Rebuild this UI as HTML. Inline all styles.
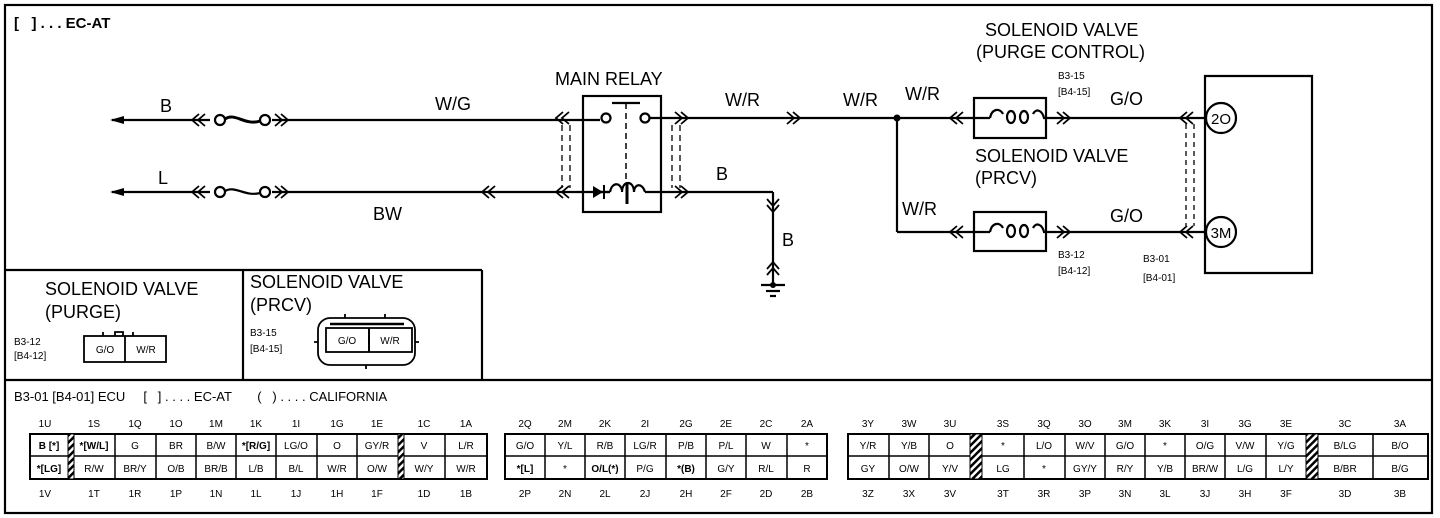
<!DOCTYPE html>
<html><head><meta charset="utf-8"><style>
html,body{margin:0;padding:0;background:#fff;}
svg{display:block;font-family:"Liberation Sans",sans-serif;}
</style></head><body>
<svg width="1440" height="518" viewBox="0 0 1440 518" xmlns="http://www.w3.org/2000/svg">
<defs>
<g id="cl"><path d="M7,-6 L0,0 L7,6 M13,-6 L6,0 L13,6" fill="none" stroke="#000" stroke-width="1.8"/></g>
<g id="cr"><path d="M-7,-6 L0,0 L-7,6 M-13,-6 L-6,0 L-13,6" fill="none" stroke="#000" stroke-width="1.8"/></g>
<g id="cd"><path d="M-6,-7 L0,0 L6,-7 M-6,-13 L0,-6 L6,-13" fill="none" stroke="#000" stroke-width="1.8"/></g>
<g id="cu"><path d="M-6,7 L0,0 L6,7 M-6,13 L0,6 L6,13" fill="none" stroke="#000" stroke-width="1.8"/></g>
<pattern id="hatch" width="5" height="5" patternUnits="userSpaceOnUse" patternTransform="rotate(45)"><rect width="5" height="5" fill="#fff"/><rect width="2.5" height="5" fill="#000"/></pattern>
</defs>
<g fill="none" stroke="#000" stroke-width="2.2">
<rect x="5" y="5" width="1427" height="508"/>
<line x1="5" y1="380" x2="1432" y2="380"/>
<line x1="5" y1="270" x2="482" y2="270"/>
<line x1="482" y1="270" x2="482" y2="380"/>
<line x1="243" y1="270" x2="243" y2="380"/>
</g>
<g font-size="15" font-weight="bold"><text x="14" y="28">[&#160;&#160;&#160;] . . . EC-AT</text></g>

<g stroke="#000" stroke-width="2.2" fill="none">
<line x1="112" y1="120" x2="210" y2="120"/>
<line x1="272" y1="120" x2="600" y2="120"/>
<line x1="112" y1="192" x2="210" y2="192"/>
<line x1="272" y1="192" x2="610" y2="192"/>
<circle cx="220" cy="120" r="5" fill="#fff"/><circle cx="265" cy="120" r="5" fill="#fff"/>
<path d="M225,119 C235,112 245,126 260,121" stroke-width="3"/>
<circle cx="220" cy="192" r="5" fill="#fff"/><circle cx="265" cy="192" r="5" fill="#fff"/>
<path d="M225,191 C235,185 245,197 260,193"/>
</g>
<path d="M110,120 L124,116 L124,124 Z M110,192 L124,188 L124,196 Z" fill="#000"/>
<use href="#cl" x="192" y="120"/><use href="#cr" x="288" y="120"/>
<use href="#cl" x="192" y="192"/><use href="#cr" x="288" y="192"/>
<use href="#cl" x="482" y="192"/>
<g font-size="18"><text x="160" y="112">B</text><text x="158" y="184">L</text>
<text x="435" y="110">W/G</text><text x="373" y="220">BW</text></g>

<g stroke="#000" stroke-width="2.2" fill="none">
<rect x="583" y="96" width="78" height="116"/>
<line x1="612" y1="103" x2="640" y2="103"/>
<line x1="626" y1="103" x2="626" y2="180" stroke-dasharray="6,4" stroke-width="1.5"/>
<circle cx="606" cy="118" r="4.5" fill="#fff"/><circle cx="645" cy="118" r="4.5" fill="#fff"/>
<line x1="650" y1="118" x2="897" y2="118"/>
<line x1="600" y1="192" x2="610" y2="192"/>
<path d="M610,192 C612,182 620,182 622,190 M622,192 C622,180 634,180 634,192 C634,184 642,182 645,192"/>
<line x1="645" y1="192" x2="773" y2="192"/>
<line x1="627" y1="184" x2="627" y2="204" stroke-width="3"/>
<line x1="562" y1="125" x2="562" y2="188" stroke-dasharray="6,4" stroke-width="1.3"/>
<line x1="570" y1="125" x2="570" y2="188" stroke-dasharray="6,4" stroke-width="1.3"/>
<line x1="672" y1="125" x2="672" y2="188" stroke-dasharray="6,4" stroke-width="1.3"/>
<line x1="680" y1="125" x2="680" y2="188" stroke-dasharray="6,4" stroke-width="1.3"/>
</g>
<path d="M593,186 L593,198 L603,192 Z" fill="#000"/><line x1="604" y1="185" x2="604" y2="199" stroke="#000" stroke-width="2"/>
<use href="#cl" x="556" y="118"/><use href="#cl" x="556" y="192"/>
<use href="#cr" x="688" y="118"/><use href="#cr" x="688" y="192"/>
<use href="#cr" x="800" y="118"/>
<g font-size="18"><text x="555" y="85">MAIN RELAY</text>
<text x="725" y="106">W/R</text><text x="843" y="106">W/R</text><text x="905" y="100">W/R</text>
<text x="716" y="180">B</text><text x="782" y="246">B</text><text x="902" y="215">W/R</text>
<text x="1110" y="105">G/O</text><text x="1110" y="222">G/O</text>
<text x="985" y="36">SOLENOID VALVE</text><text x="976" y="58">(PURGE CONTROL)</text>
<text x="975" y="162">SOLENOID VALVE</text><text x="975" y="184">(PRCV)</text></g>

<g stroke="#000" stroke-width="2.2" fill="none">
<line x1="773" y1="192" x2="773" y2="285"/>
<line x1="761" y1="285" x2="785" y2="285"/>
<line x1="766" y1="291" x2="780" y2="291"/>
<line x1="770" y1="296" x2="776" y2="296"/>
</g>
<circle cx="773" cy="285" r="3" fill="#000"/>
<use href="#cd" x="773" y="212"/><use href="#cu" x="773" y="262"/>

<circle cx="897" cy="118" r="3.5" fill="#000"/>
<g stroke="#000" stroke-width="2.2" fill="none">
<line x1="897" y1="118" x2="990" y2="118"/>
<line x1="897" y1="118" x2="897" y2="232"/>
<line x1="897" y1="232" x2="990" y2="232"/>
<rect x="974" y="98" width="72" height="40"/>
<rect x="974" y="212" width="72" height="39"/>
<path d="M990,118 C992,108 1000,108 1003,114 M1033,114 C1036,108 1042,110 1044,118 L1206,118"/>
<ellipse cx="1011" cy="117" rx="4" ry="6"/><ellipse cx="1024" cy="117" rx="4" ry="6"/>
<path d="M990,232 C992,222 1000,222 1003,228 M1033,228 C1036,222 1042,224 1044,232 L1206,232"/>
<ellipse cx="1011" cy="231" rx="4" ry="6"/><ellipse cx="1024" cy="231" rx="4" ry="6"/>
<path d="M1205,76 L1312,76 L1312,273 L1205,273 Z"/>
<line x1="1186" y1="124" x2="1186" y2="226" stroke-dasharray="5,4" stroke-width="1.3"/>
<line x1="1194" y1="124" x2="1194" y2="226" stroke-dasharray="5,4" stroke-width="1.3"/>
<circle cx="1221" cy="118" r="15" fill="#fff"/>
<circle cx="1221" cy="232" r="15" fill="#fff"/>
</g>
<use href="#cl" x="950" y="118"/><use href="#cl" x="950" y="232"/>
<use href="#cr" x="1070" y="118"/><use href="#cr" x="1070" y="232"/>
<use href="#cl" x="1180" y="118"/><use href="#cl" x="1180" y="232"/>
<g font-size="15" text-anchor="middle"><text x="1221" y="124">2O</text><text x="1221" y="238">3M</text></g>
<g font-size="10"><text x="1058" y="79">B3-15</text><text x="1058" y="95">[B4-15]</text>
<text x="1058" y="258">B3-12</text><text x="1058" y="274">[B4-12]</text>
<text x="1143" y="262">B3-01</text><text x="1143" y="281">[B4-01]</text></g>

<g font-size="18"><text x="45" y="295">SOLENOID VALVE</text><text x="45" y="318">(PURGE)</text>
<text x="250" y="288">SOLENOID VALVE</text><text x="250" y="311">(PRCV)</text></g>
<g font-size="10"><text x="14" y="345">B3-12</text><text x="14" y="359">[B4-12]</text>
<text x="250" y="336">B3-15</text><text x="250" y="352">[B4-15]</text></g>
<g stroke="#000" stroke-width="1.8" fill="none">
<rect x="84" y="336" width="82" height="26"/><line x1="125" y1="336" x2="125" y2="362"/>
<path d="M103,336 v-4 M115,336 v-4 h8 v4 M133,336 v-4"/>
<rect x="318" y="318" width="97" height="47" rx="12"/>
<rect x="326" y="328" width="86" height="24"/><line x1="369" y1="328" x2="369" y2="352" stroke-width="2"/>
<line x1="330" y1="324" x2="404" y2="324" stroke-width="2.5"/>
<path d="M345,318 v-4 M385,318 v-4 M366,365 v4 M318,342 h-4 M415,342 h4"/>
</g>
<g font-size="10" text-anchor="middle"><text x="105" y="353">G/O</text><text x="146" y="353">W/R</text>
<text x="347" y="344">G/O</text><text x="390" y="344">W/R</text></g>

<g font-size="13"><text x="14" y="401">B3-01 [B4-01] ECU&#160;&#160;&#160;&#160;&#160;[&#160;&#160;&#160;] . . . . EC-AT&#160;&#160;&#160;&#160;&#160;&#160;&#160;(&#160;&#160;&#160;) . . . . CALIFORNIA</text></g>
<g font-size="10" text-anchor="middle">
<rect x="30" y="434" width="457" height="45" fill="none" stroke="#000" stroke-width="2"/>
<line x1="30" y1="456" x2="487" y2="456" stroke="#000" stroke-width="1.5"/>
<rect x="68" y="434" width="6" height="45" fill="url(#hatch)" stroke="#000"/>
<rect x="398" y="434" width="6" height="45" fill="url(#hatch)" stroke="#000"/>
<g stroke="#000" stroke-width="1.5">
<line x1="115" y1="434" x2="115" y2="479"/><line x1="156" y1="434" x2="156" y2="479"/><line x1="196" y1="434" x2="196" y2="479"/>
<line x1="236" y1="434" x2="236" y2="479"/><line x1="276" y1="434" x2="276" y2="479"/><line x1="317" y1="434" x2="317" y2="479"/>
<line x1="357" y1="434" x2="357" y2="479"/><line x1="445" y1="434" x2="445" y2="479"/>
</g>
<text x="45" y="427">1U</text><text x="94" y="427">1S</text><text x="135" y="427">1Q</text><text x="176" y="427">1O</text><text x="216" y="427">1M</text><text x="256" y="427">1K</text><text x="296" y="427">1I</text><text x="337" y="427">1G</text><text x="377" y="427">1E</text><text x="424" y="427">1C</text><text x="466" y="427">1A</text>
<text x="49" y="449" font-weight="bold">B [*]</text><text x="94" y="449" font-weight="bold">*[W/L]</text><text x="135" y="449">G</text><text x="176" y="449">BR</text><text x="216" y="449">B/W</text><text x="256" y="449" font-weight="bold">*[R/G]</text><text x="296" y="449">LG/O</text><text x="337" y="449">O</text><text x="377" y="449">GY/R</text><text x="424" y="449">V</text><text x="466" y="449">L/R</text>
<text x="49" y="472" font-weight="bold">*[LG]</text><text x="94" y="472">R/W</text><text x="135" y="472">BR/Y</text><text x="176" y="472">O/B</text><text x="216" y="472">BR/B</text><text x="256" y="472">L/B</text><text x="296" y="472">B/L</text><text x="337" y="472">W/R</text><text x="377" y="472">O/W</text><text x="424" y="472">W/Y</text><text x="466" y="472">W/R</text>
<text x="45" y="497">1V</text><text x="94" y="497">1T</text><text x="135" y="497">1R</text><text x="176" y="497">1P</text><text x="216" y="497">1N</text><text x="256" y="497">1L</text><text x="296" y="497">1J</text><text x="337" y="497">1H</text><text x="377" y="497">1F</text><text x="424" y="497">1D</text><text x="466" y="497">1B</text>
<rect x="505" y="434" width="322" height="45" fill="none" stroke="#000" stroke-width="2"/>
<line x1="505" y1="456" x2="827" y2="456" stroke="#000" stroke-width="1.5"/>
<g stroke="#000" stroke-width="1.5">
<line x1="545" y1="434" x2="545" y2="479"/><line x1="585" y1="434" x2="585" y2="479"/><line x1="625" y1="434" x2="625" y2="479"/><line x1="666" y1="434" x2="666" y2="479"/><line x1="706" y1="434" x2="706" y2="479"/><line x1="746" y1="434" x2="746" y2="479"/><line x1="787" y1="434" x2="787" y2="479"/>
</g>
<text x="525" y="427">2Q</text><text x="565" y="427">2M</text><text x="605" y="427">2K</text><text x="645" y="427">2I</text><text x="686" y="427">2G</text><text x="726" y="427">2E</text><text x="766" y="427">2C</text><text x="807" y="427">2A</text>
<text x="525" y="449">G/O</text><text x="565" y="449">Y/L</text><text x="605" y="449">R/B</text><text x="645" y="449">LG/R</text><text x="686" y="449">P/B</text><text x="726" y="449">P/L</text><text x="766" y="449">W</text><text x="807" y="449">*</text>
<text x="525" y="472" font-weight="bold">*[L]</text><text x="565" y="472">*</text><text x="605" y="472" font-weight="bold">O/L(*)</text><text x="645" y="472">P/G</text><text x="686" y="472" font-weight="bold">*(B)</text><text x="726" y="472">G/Y</text><text x="766" y="472">R/L</text><text x="807" y="472">R</text>
<text x="525" y="497">2P</text><text x="565" y="497">2N</text><text x="605" y="497">2L</text><text x="645" y="497">2J</text><text x="686" y="497">2H</text><text x="726" y="497">2F</text><text x="766" y="497">2D</text><text x="807" y="497">2B</text>
<rect x="848" y="434" width="580" height="45" fill="none" stroke="#000" stroke-width="2"/>
<line x1="848" y1="456" x2="1428" y2="456" stroke="#000" stroke-width="1.5"/>
<rect x="970" y="434" width="12" height="45" fill="url(#hatch)" stroke="#000"/>
<rect x="1306" y="434" width="12" height="45" fill="url(#hatch)" stroke="#000"/>
<g stroke="#000" stroke-width="1.5">
<line x1="889" y1="434" x2="889" y2="479"/><line x1="929" y1="434" x2="929" y2="479"/>
<line x1="1024" y1="434" x2="1024" y2="479"/><line x1="1065" y1="434" x2="1065" y2="479"/><line x1="1105" y1="434" x2="1105" y2="479"/><line x1="1145" y1="434" x2="1145" y2="479"/><line x1="1185" y1="434" x2="1185" y2="479"/><line x1="1225" y1="434" x2="1225" y2="479"/><line x1="1266" y1="434" x2="1266" y2="479"/><line x1="1373" y1="434" x2="1373" y2="479"/>
</g>
<text x="868" y="427">3Y</text><text x="909" y="427">3W</text><text x="950" y="427">3U</text><text x="1003" y="427">3S</text><text x="1044" y="427">3Q</text><text x="1085" y="427">3O</text><text x="1125" y="427">3M</text><text x="1165" y="427">3K</text><text x="1205" y="427">3I</text><text x="1245" y="427">3G</text><text x="1286" y="427">3E</text><text x="1345" y="427">3C</text><text x="1400" y="427">3A</text>
<text x="868" y="449">Y/R</text><text x="909" y="449">Y/B</text><text x="950" y="449">O</text><text x="1003" y="449">*</text><text x="1044" y="449">L/O</text><text x="1085" y="449">W/V</text><text x="1125" y="449">G/O</text><text x="1165" y="449">*</text><text x="1205" y="449">O/G</text><text x="1245" y="449">V/W</text><text x="1286" y="449">Y/G</text><text x="1345" y="449">B/LG</text><text x="1400" y="449">B/O</text>
<text x="868" y="472">GY</text><text x="909" y="472">O/W</text><text x="950" y="472">Y/V</text><text x="1003" y="472">LG</text><text x="1044" y="472">*</text><text x="1085" y="472">GY/Y</text><text x="1125" y="472">R/Y</text><text x="1165" y="472">Y/B</text><text x="1205" y="472">BR/W</text><text x="1245" y="472">L/G</text><text x="1286" y="472">L/Y</text><text x="1345" y="472">B/BR</text><text x="1400" y="472">B/G</text>
<text x="868" y="497">3Z</text><text x="909" y="497">3X</text><text x="950" y="497">3V</text><text x="1003" y="497">3T</text><text x="1044" y="497">3R</text><text x="1085" y="497">3P</text><text x="1125" y="497">3N</text><text x="1165" y="497">3L</text><text x="1205" y="497">3J</text><text x="1245" y="497">3H</text><text x="1286" y="497">3F</text><text x="1345" y="497">3D</text><text x="1400" y="497">3B</text>
</g>
</svg>
</body></html>
